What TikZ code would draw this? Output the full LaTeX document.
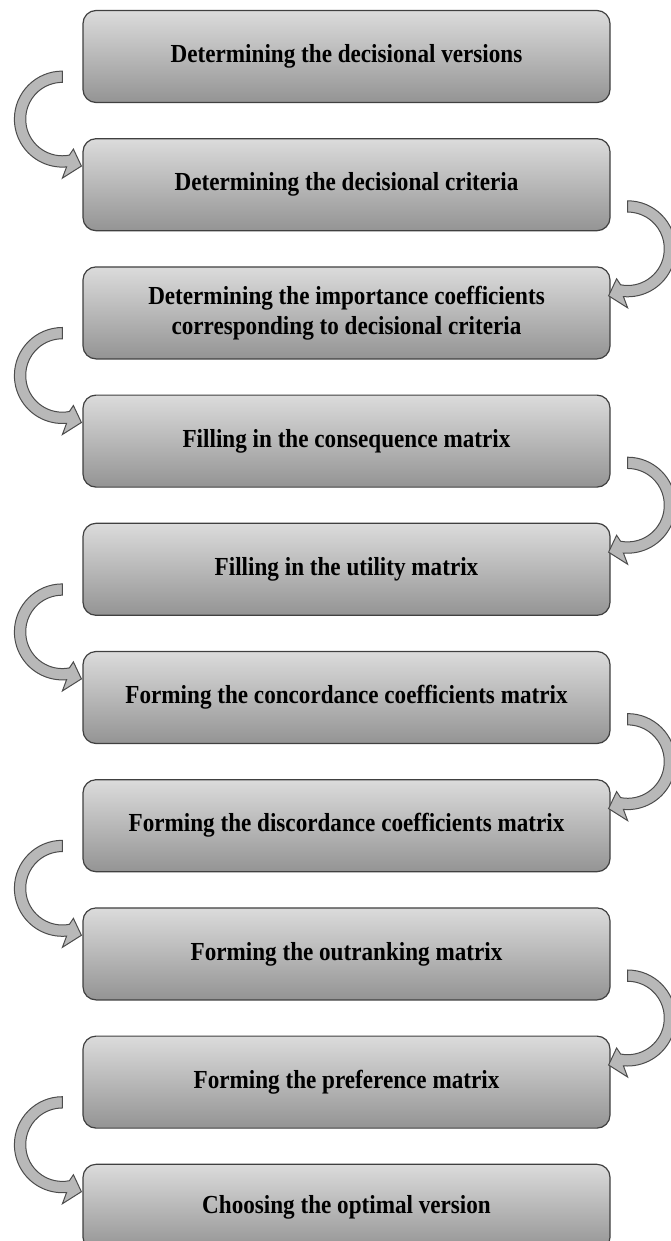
\documentclass[tikz,border=0pt]{standalone}
\usepackage{fontspec}
\setmainfont{Liberation Serif}[FakeStretch=0.89]
\usetikzlibrary{positioning,calc}
\tikzset{
  stepbox/.style={draw=black!75, line width=1.2pt, rounded corners=13pt,
    top color=black!14, bottom color=black!42,
    minimum width=527pt, minimum height=92pt, inner sep=0pt,
    align=center, font=\fontsize{26}{30}\selectfont\bfseries},
  bendarrow/.style={draw=black!70, line width=1pt, fill=black!28}
}
% curved block arrow: #1 centre, #2 = 1 (left side) or -1 (right side)
\newcommand{\curvearrow}[2]{%
  \draw[bendarrow, shift={(#1)}, xscale=#2]
    (0,48) arc[start angle=90, end angle=275, radius=48]
    -- (0,-59) -- (19,-47) -- (11,-30) -- (7,-36)
    arc[start angle=281, end angle=90, radius=36.7] -- cycle;
}

\begin{document}
\begin{tikzpicture}[x=1pt, y=1pt]
\useasboundingbox (0,0) rectangle (670,-1241);

\node[stepbox] (s1) at (346.5,-56.5) {Determining the decisional versions};
\node[stepbox, below=35pt of s1] (s2) {Determining the decisional criteria};
\node[stepbox, below=35pt of s2] (s3) {Determining the importance coefficients\\corresponding to decisional criteria};
\node[stepbox, below=35pt of s3] (s4) {Filling in the consequence matrix};
\node[stepbox, below=35pt of s4] (s5) {Filling in the utility matrix};
\node[stepbox, below=35pt of s5] (s6) {Forming the concordance coefficients matrix};
\node[stepbox, below=35pt of s6] (s7) {Forming the discordance coefficients matrix};
\node[stepbox, below=35pt of s7] (s8) {Forming the outranking matrix};
\node[stepbox, below=35pt of s8] (s9) {Forming the preference matrix};
\node[stepbox, below=35pt of s9, minimum height=86pt] (s10) {Choosing the optimal version};

% arrows on the left
\foreach \i/\j in {1/2,3/4,5/6,7/8,9/10} {
  \coordinate (l\i) at ($(s\i.south west)!0.5!(s\j.north west)+(-20,1.5)$);
  \curvearrow{l\i}{1}
}
% arrows on the right
\foreach \i/\j in {2/3,4/5,6/7,8/9} {
  \coordinate (r\i) at ($(s\i.south east)!0.5!(s\j.north east)+(17,0)$);
  \curvearrow{r\i}{-1}
}
\end{tikzpicture}
\end{document}
